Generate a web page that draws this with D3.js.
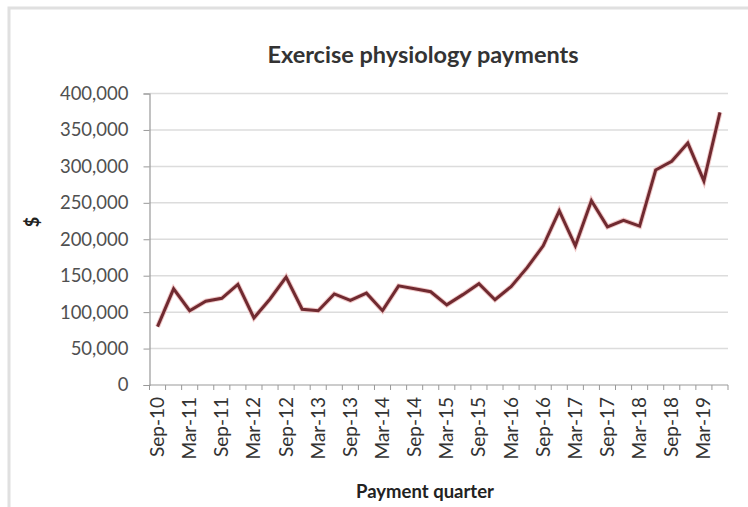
<!DOCTYPE html>
<html>
<head>
<meta charset="utf-8">
<script src="https://cdn.jsdelivr.net/npm/d3@7"></script>
<style>
  html, body { margin: 0; padding: 0; background: #fff; }
  svg { display: block; }
</style>
</head>
<body>
<script>
// ---- data ----
const quarters = [
  "Sep-10","Dec-10","Mar-11","Jun-11","Sep-11","Dec-11","Mar-12","Jun-12",
  "Sep-12","Dec-12","Mar-13","Jun-13","Sep-13","Dec-13","Mar-14","Jun-14",
  "Sep-14","Dec-14","Mar-15","Jun-15","Sep-15","Dec-15","Mar-16","Jun-16",
  "Sep-16","Dec-16","Mar-17","Jun-17","Sep-17","Dec-17","Mar-18","Jun-18",
  "Sep-18","Dec-18","Mar-19","Jun-19"
];
const payments = [
  80000, 132000, 102000, 115000, 119000, 138000, 92000, 118000,
  148000, 104000, 102000, 125000, 116000, 126000, 102000, 136000,
  132000, 128000, 110000, 124000, 139000, 117000, 135000, 161000,
  191000, 239000, 191000, 253000, 217000, 226000, 218000, 295000,
  307000, 332000, 280000, 374000
];
const yTicks = [0, 50000, 100000, 150000, 200000, 250000, 300000, 350000, 400000];
const xTickLabels = quarters.filter((q, i) => i % 2 === 0);
const chartTitle = "Exercise physiology payments";
const xTitle = "Payment quarter";
const yTitle = "$";

// ---- layout ----
const W = 748, H = 507;
const plot = { left: 149.5, right: 728, top: 93.5, bottom: 385 };
const font = "Lato, 'Open Sans', sans-serif";

const svg = d3.select("body").append("svg").attr("width", W).attr("height", H);

// frame
svg.append("rect").attr("x", 9).attr("y", 8).attr("width", W).attr("height", H)
  .attr("fill", "#fff").attr("stroke", "#e0e0e0").attr("stroke-width", 3);

const x = d3.scaleBand().domain(quarters).range([plot.left, plot.right]);
const y = d3.scaleLinear().domain([0, 400000]).range([plot.bottom, plot.top]);

// gridlines
svg.append("g").selectAll("line").data(yTicks.slice(1)).join("line")
  .attr("x1", plot.left).attr("x2", plot.right)
  .attr("y1", d => y(d)).attr("y2", d => y(d))
  .attr("stroke", "#dcdcdc").attr("stroke-width", 1.5);

// y axis
const yAxis = svg.append("g").attr("transform", `translate(${plot.left},0)`)
  .call(d3.axisLeft(y).tickValues(yTicks).tickFormat(d3.format(",")).tickSizeOuter(0).tickSize(6).tickPadding(15));
yAxis.select(".domain").attr("stroke", "#999").attr("stroke-width", 1.2);
yAxis.selectAll(".tick line").attr("stroke", "#999");
yAxis.selectAll("text").attr("font-family", font).attr("font-size", 18.5).attr("fill", "#505050");

// x axis: tick lines at every category boundary
const xAxisG = svg.append("g").attr("transform", `translate(0,${plot.bottom})`);
xAxisG.append("line").attr("x1", plot.left).attr("x2", plot.right)
  .attr("stroke", "#999").attr("stroke-width", 1.2);
const bounds = quarters.map(q => x(q)).concat([plot.right]);
xAxisG.selectAll("line.tk").data(bounds).join("line").attr("class", "tk")
  .attr("x1", d => d).attr("x2", d => d).attr("y1", 0).attr("y2", 5)
  .attr("stroke", "#999");
xAxisG.selectAll("text").data(xTickLabels).join("text")
  .attr("transform", d => `translate(${x(d) + x.bandwidth() / 2 + 6.5},12) rotate(-90)`)
  .attr("text-anchor", "end")
  .attr("font-family", font).attr("font-size", 19).attr("fill", "#333")
  .text(d => d);

// line
const line = d3.line()
  .x((d, i) => x(quarters[i]) + x.bandwidth() / 2)
  .y(d => y(d));
svg.append("path").datum(payments)
  .attr("d", line).attr("fill", "none")
  .attr("stroke", "#f0c8c8").attr("stroke-width", 5).attr("stroke-linejoin", "miter");
svg.append("path").datum(payments)
  .attr("d", line).attr("fill", "none")
  .attr("stroke", "#702a30").attr("stroke-width", 3).attr("stroke-linejoin", "miter");

// titles
svg.append("text").attr("x", 423).attr("y", 63).attr("text-anchor", "middle")
  .attr("font-family", font).attr("font-weight", "bold").attr("font-size", 23.5).attr("fill", "#333")
  .text(chartTitle);
svg.append("text").attr("x", 425).attr("y", 498).attr("text-anchor", "middle")
  .attr("font-family", font).attr("font-weight", "bold").attr("font-size", 18.5).attr("fill", "#222")
  .text(xTitle);
svg.append("text").attr("transform", "translate(39,222) rotate(-90)").attr("text-anchor", "middle")
  .attr("font-family", font).attr("font-weight", "bold").attr("font-size", 18).attr("fill", "#222")
  .text(yTitle);
</script>
</body>
</html>
